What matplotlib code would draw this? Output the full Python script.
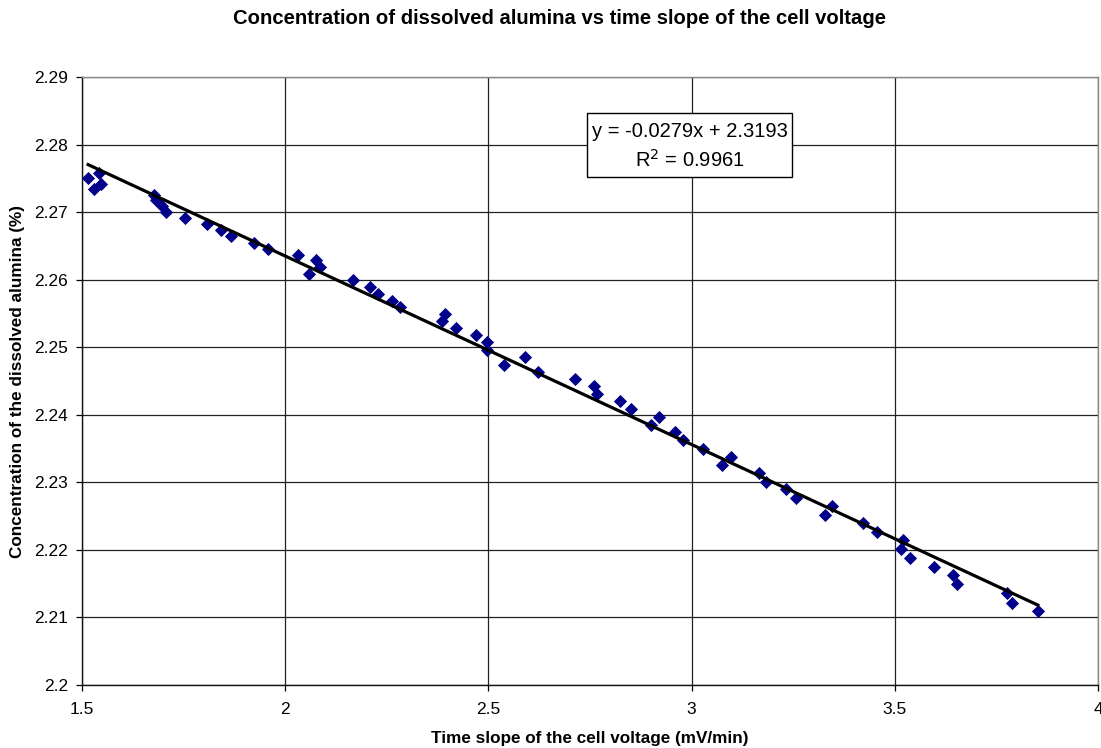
import matplotlib
matplotlib.use("Agg")
import matplotlib.pyplot as plt
from matplotlib.patches import Rectangle
import numpy as np

plt.rcParams['font.family'] = ['Liberation Sans', 'DejaVu Sans']

x_vals = [1.515, 1.530, 1.542, 1.547, 1.677, 1.682, 1.697, 1.707, 1.754, 1.808,
          1.842, 1.867, 1.924, 1.958, 2.032, 2.059, 2.076, 2.086, 2.167, 2.209,
          2.229, 2.264, 2.283, 2.387, 2.394, 2.421, 2.470, 2.497, 2.497, 2.539,
          2.589, 2.621, 2.712, 2.759, 2.768, 2.823, 2.852, 2.901, 2.921, 2.958,
          2.978, 3.027, 3.074, 3.096, 3.165, 3.182, 3.232, 3.256, 3.328, 3.345,
          3.421, 3.456, 3.520, 3.515, 3.537, 3.596, 3.643, 3.653, 3.776, 3.788,
          3.852]
y_vals = [2.2750, 2.2734, 2.2758, 2.2741, 2.2725, 2.2718, 2.2709, 2.2700, 2.2691, 2.2682,
          2.2673, 2.2664, 2.2655, 2.2646, 2.2637, 2.2609, 2.2629, 2.2619, 2.2599, 2.2589,
          2.2579, 2.2569, 2.2559, 2.2539, 2.2549, 2.2528, 2.2518, 2.2507, 2.2496, 2.2474,
          2.2486, 2.2464, 2.2453, 2.2442, 2.2431, 2.2420, 2.2408, 2.2385, 2.2397, 2.2374,
          2.2362, 2.2350, 2.2326, 2.2338, 2.2314, 2.2301, 2.2290, 2.2277, 2.2252, 2.2265,
          2.2240, 2.2227, 2.2215, 2.2201, 2.2188, 2.2175, 2.2163, 2.2149, 2.2136, 2.2122,
          2.2109]

slope = -0.0279
intercept = 2.3193
r_squared = 0.9961

x_ticks = [1.5, 2, 2.5, 3, 3.5, 4]
x_tick_labels = ['1.5', '2', '2.5', '3', '3.5', '4']
y_ticks = [2.2, 2.21, 2.22, 2.23, 2.24, 2.25, 2.26, 2.27, 2.28, 2.29]
y_tick_labels = ['2.2', '2.21', '2.22', '2.23', '2.24', '2.25', '2.26', '2.27', '2.28', '2.29']

W, H = 1101, 748
fig = plt.figure(figsize=(W / 100, H / 100), dpi=100)
ax = fig.add_axes([82 / W, 1 - 685 / H, (1098 - 82) / W, (685 - 77) / H])

ax.set_xlim(1.5, 4)
ax.set_ylim(2.2, 2.29)
ax.set_xticks(x_ticks)
ax.set_xticklabels(x_tick_labels)
ax.set_yticks(y_ticks)
ax.set_yticklabels(y_tick_labels)
ax.grid(True, color='#222222', linewidth=0.9)
ax.set_axisbelow(True)

for side in ['top', 'right']:
    ax.spines[side].set_color('#888888')
    ax.spines[side].set_linewidth(1.0)
for side in ['left', 'bottom']:
    ax.spines[side].set_color('#111111')
    ax.spines[side].set_linewidth(1.0)

ax.tick_params(axis='both', direction='out', length=4, width=0.9, labelsize=12.5, colors='black')
ax.tick_params(axis='y', pad=6)
ax.tick_params(axis='x', pad=8)

ax.scatter(x_vals, y_vals, marker='D', s=45, color='#00008B', zorder=3, linewidths=0)

xs = np.array([min(x_vals), max(x_vals)])
ax.plot(xs, slope * xs + intercept, color='black', linewidth=2.3, zorder=4)

# equation box
bx0, bx1 = (587 - 82) / 1016, (792 - 82) / 1016
by0, by1 = (685 - 177) / 608, (685 - 113) / 608
ax.add_patch(Rectangle((bx0, by0), bx1 - bx0, by1 - by0, transform=ax.transAxes,
                       facecolor='white', edgecolor='black', linewidth=1.0, zorder=5))
cx = (bx0 + bx1) / 2
ax.text(cx, (685 - 131.5) / 608, f"y = {slope:.4f}x + {intercept:.4f}", transform=ax.transAxes,
        ha='center', va='center', fontsize=14.5, zorder=6)
ax.text(cx, (685 - 160) / 608, f"R$^2$ = {r_squared:.4f}", transform=ax.transAxes,
        ha='center', va='center', fontsize=14.5, zorder=6)

fig.text(559.5 / W, 1 - 18 / H, "Concentration of dissolved alumina vs time slope of the cell voltage",
         ha='center', va='center', fontsize=14.6, fontweight='bold')
fig.text(590 / W, 1 - 738 / H, "Time slope of the cell voltage (mV/min)",
         ha='center', va='center', fontsize=12.3, fontweight='bold')
fig.text(18 / W, 1 - 381 / H, "Concentration of the dissolved alumina (%)",
         ha='center', va='center', rotation=90, fontsize=12.3, fontweight='bold')

fig.savefig("out.png", dpi=100)
